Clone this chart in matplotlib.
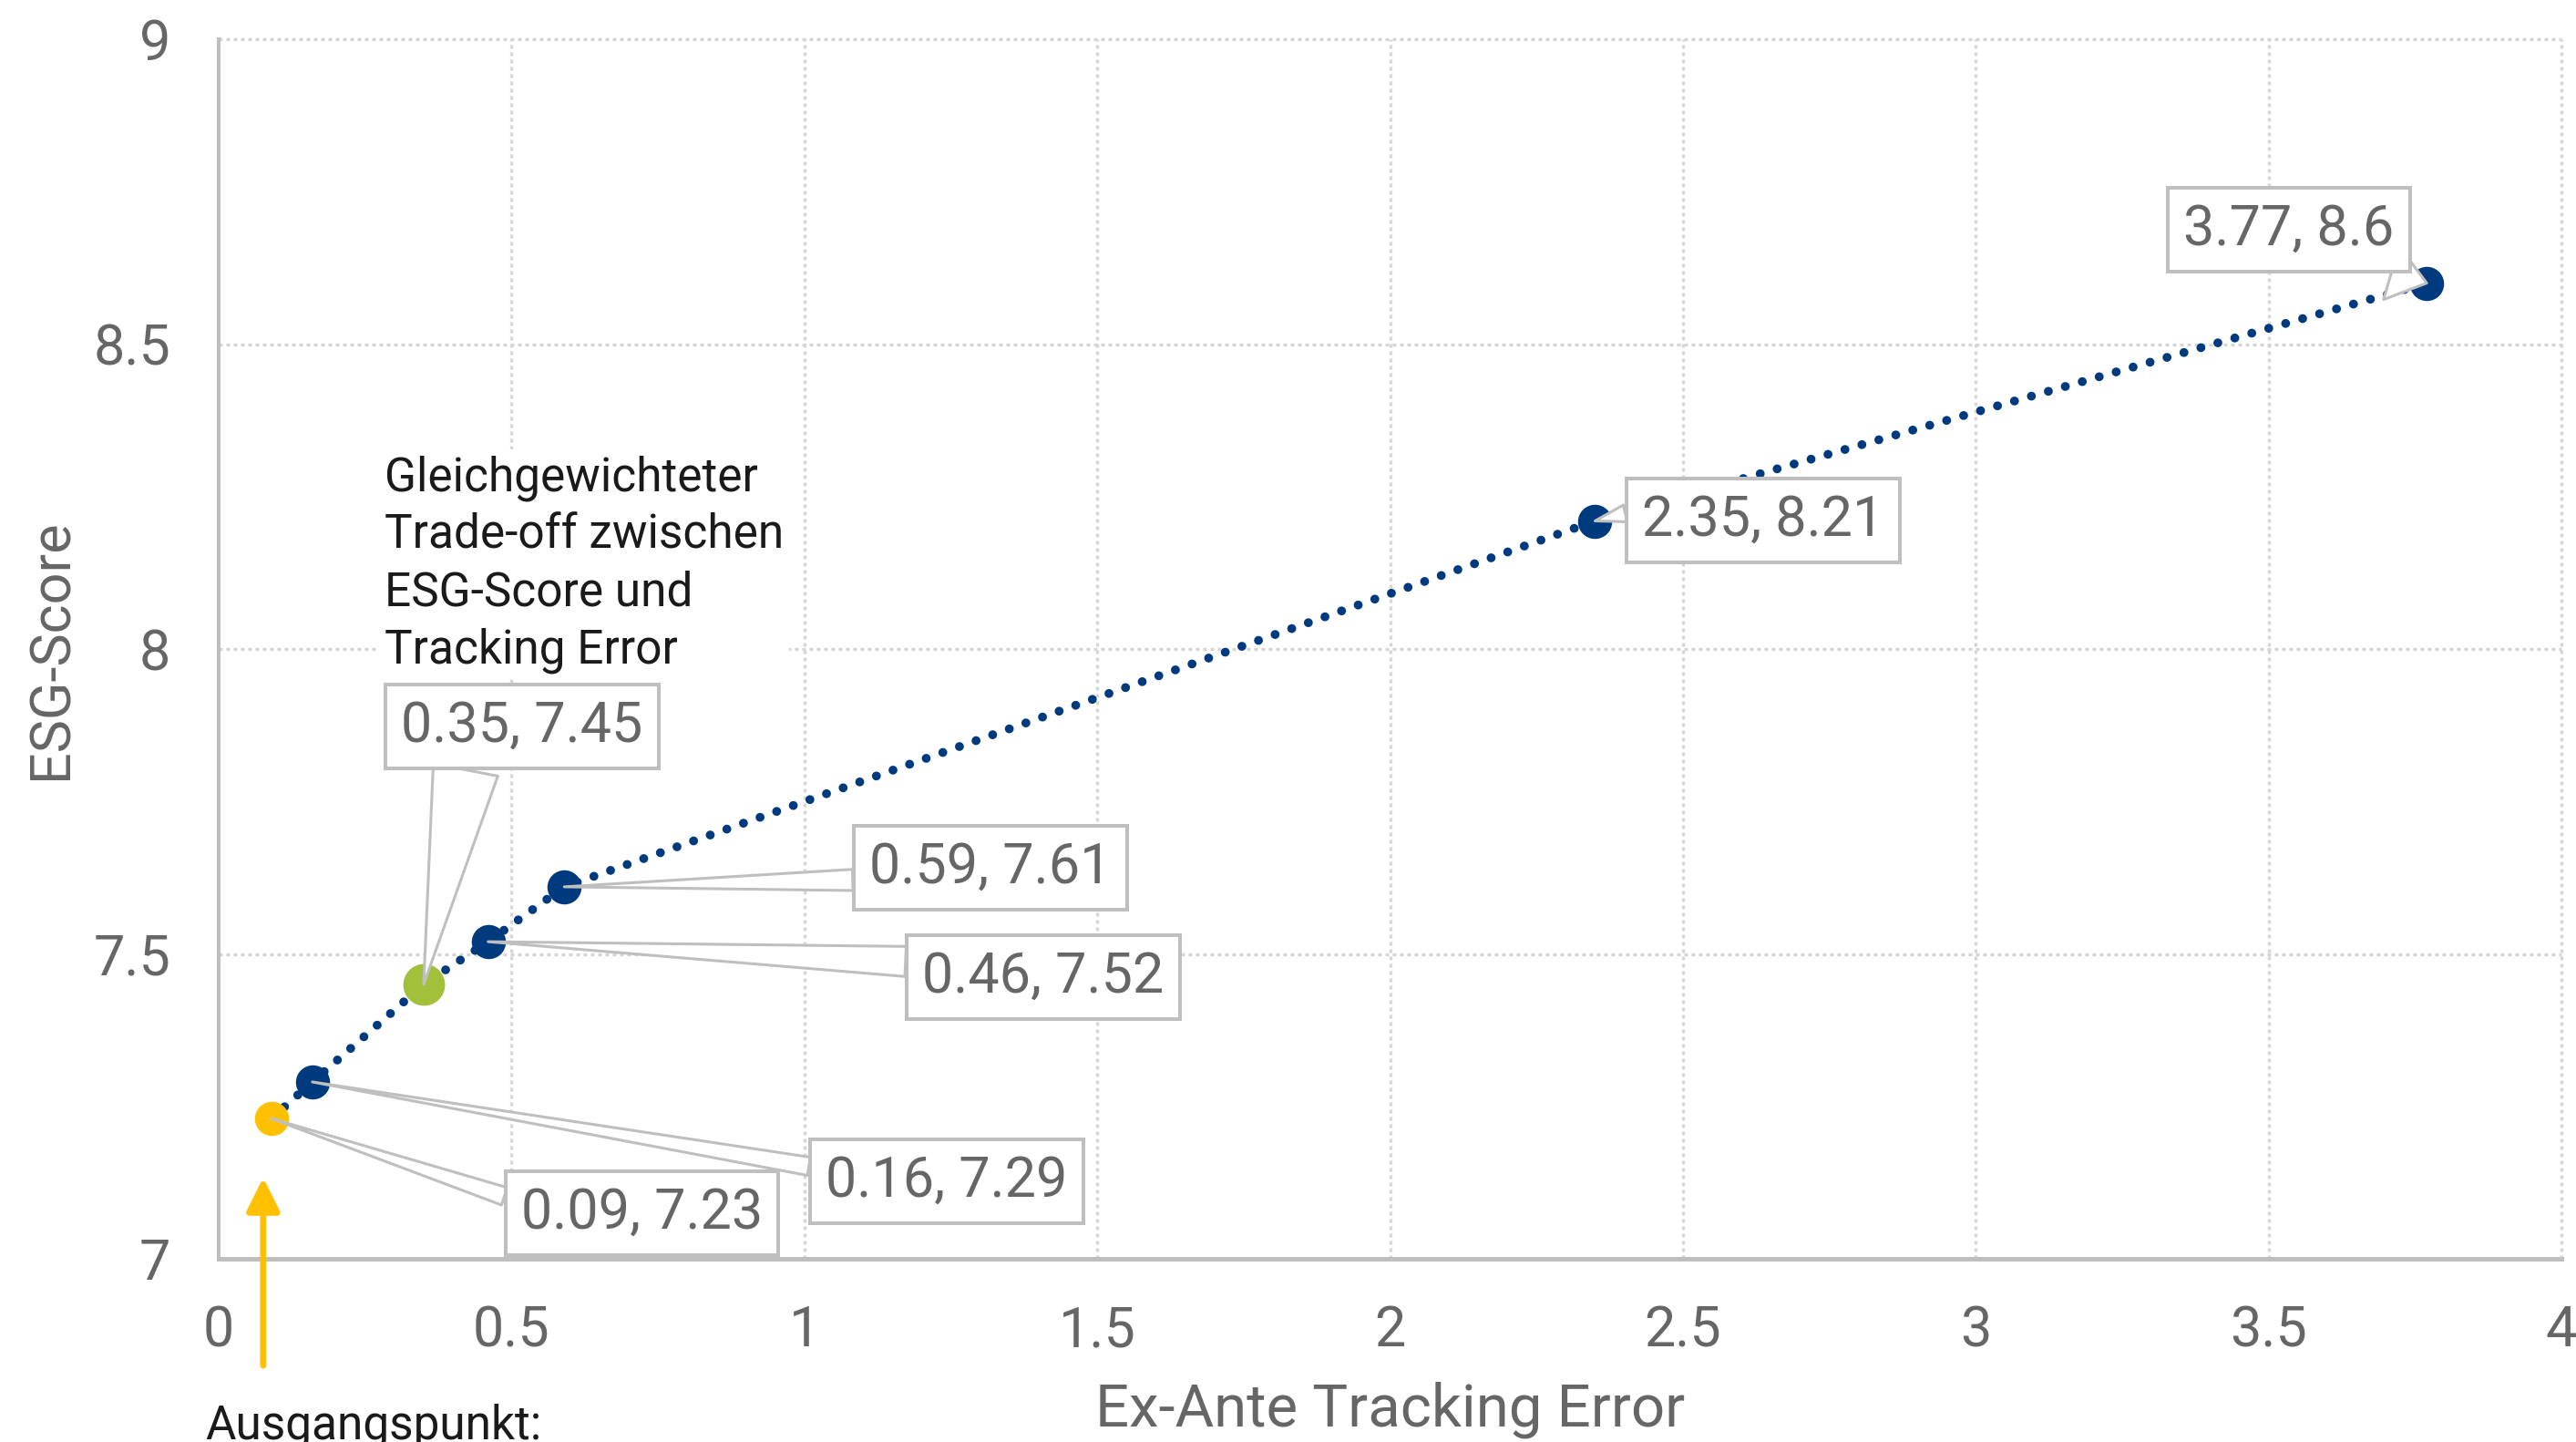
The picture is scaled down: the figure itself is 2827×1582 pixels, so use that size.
import matplotlib
matplotlib.use("Agg")
import matplotlib.pyplot as plt

# ---------------- data ----------------
tracking_error = [0.09, 0.16, 0.35, 0.46, 0.59, 2.35, 3.77]
esg_score = [7.23, 7.29, 7.45, 7.52, 7.61, 8.21, 8.60]
point_labels = ["0.09, 7.23", "0.16, 7.29", "0.35, 7.45", "0.46, 7.52",
                "0.59, 7.61", "2.35, 8.21", "3.77, 8.6"]
x_ticks = [0, 0.5, 1, 1.5, 2, 2.5, 3, 3.5, 4]
x_tick_labels = ["0", "0.5", "1", "1.5", "2", "2.5", "3", "3.5", "4"]
y_ticks = [7, 7.5, 8, 8.5, 9]
y_tick_labels = ["7", "7.5", "8", "8.5", "9"]
x_label = "Ex-Ante Tracking Error"
y_label = "ESG-Score"
note_equal = "Gleichgewichteter\nTrade-off zwischen\nESG-Score und\nTracking Error"
note_start = "Ausgangspunkt:"

# ---------------- style ----------------
NAVY = "#003A7E"
GOLD = "#FFC000"
GREEN = "#A3C03B"
GRID = "#D6D6D6"
SPINE = "#BFBFBF"
TXT = "#666666"
point_colors = [GOLD, NAVY, GREEN, NAVY, NAVY, NAVY, NAVY]
point_ms = [27, 27, 33, 27, 27, 27, 27]
# label box positions (data coords), callout anchor on the box, tail widths
label_xy = [(0.723, 7.075), (1.243, 7.127), (0.518, 7.873), (1.408, 7.462),
            (1.318, 7.641), (2.637, 8.211), (3.535, 8.688)]
label_relpos = [(0.0, 0.71), (0.0, 0.73), (0.28, 0.0), (0.0, 0.78),
                (0.0, 0.28), (0.0, 0.71), (0.71, 0.0)]
tail_w = [0.33, 0.33, 1.18, 0.54, 0.38, 0.31, 1.0]

LABEL_FS = 44
plt.rcParams["font.family"] = ["Roboto", "DejaVu Sans"]

fig = plt.figure(figsize=(28.27, 15.82), dpi=100)
ax = fig.add_axes([240 / 2827, 1 - 1381 / 1582, 2571 / 2827, 1338 / 1582])

ax.set_xlim(0, 4)
ax.set_ylim(7, 9)
ax.set_xticks(x_ticks)
ax.set_xticklabels(x_tick_labels)
ax.set_yticks(y_ticks)
ax.set_yticklabels(y_tick_labels)
ax.tick_params(axis="both", length=0, labelsize=44, labelcolor=TXT)
ax.tick_params(axis="x", pad=36)
ax.tick_params(axis="y", pad=38)

for s in ["top", "right"]:
    ax.spines[s].set_visible(False)
ax.spines["left"].set_color(SPINE)
ax.spines["left"].set_linewidth(2.9)
ax.spines["bottom"].set_color(SPINE)
ax.spines["bottom"].set_linewidth(3.6)

ax.set_axisbelow(True)
ax.grid(True, color=GRID, linewidth=2.4, linestyle=(0, (1.2, 1.2)))
for gl in ax.get_xgridlines() + ax.get_ygridlines():
    gl.set_clip_on(False)

ax.set_xlabel(x_label, fontsize=47, color=TXT, va="center")
ax.xaxis.set_label_coords(0.5, -0.124)
ax.set_ylabel(y_label, fontsize=44, color=TXT, va="center")
ax.yaxis.set_label_coords(-0.0715, 0.5)

# dotted connecting line
ax.plot(tracking_error, esg_score, color=NAVY, linewidth=7.0,
        linestyle=(0, (0.01, 1.98)), dash_capstyle="round", zorder=3)

# points
for x, y, c, ms in zip(tracking_error, esg_score, point_colors, point_ms):
    ax.plot([x], [y], "o", color=c, markersize=ms, markeredgewidth=0, zorder=4)

# callout labels
for x, y, txt, (lx, ly), rp, tw in zip(tracking_error, esg_score, point_labels,
                                       label_xy, label_relpos, tail_w):
    ax.annotate(txt, xy=(x, y), xytext=(lx, ly), textcoords="data",
                ha="center", va="center", fontsize=LABEL_FS, color=TXT,
                zorder=6, annotation_clip=False,
                bbox=dict(boxstyle="square,pad=0.28", fc="white", ec=SPINE, lw=2.9),
                arrowprops=dict(arrowstyle="wedge,tail_width=%g" % tw,
                                fc="white", ec=SPINE, lw=2.2, relpos=rp,
                                mutation_scale=LABEL_FS,
                                shrinkA=0, shrinkB=0))

# annotation for equal-weighted trade-off
ax.text(0.283, 8.318, note_equal, ha="left", va="top", fontsize=37,
        color="#1A1A1A", linespacing=1.33, zorder=5,
        bbox=dict(boxstyle="square,pad=0.12", fc="white", ec="none"))

# yellow arrow for starting point
ax.annotate("", xy=(0.076, 7.133), xytext=(0.076, 6.825), textcoords="data",
            annotation_clip=False, zorder=5,
            arrowprops=dict(arrowstyle="-|>,head_length=1.1,head_width=0.55",
                            color=GOLD, lw=5, shrinkA=0, shrinkB=0,
                            mutation_scale=20))

fig.text(225 / 2827, 3 / 1582, note_start, ha="left", va="baseline",
         fontsize=37, color="#1A1A1A")

fig.savefig("out.png", dpi=100, facecolor="white")
